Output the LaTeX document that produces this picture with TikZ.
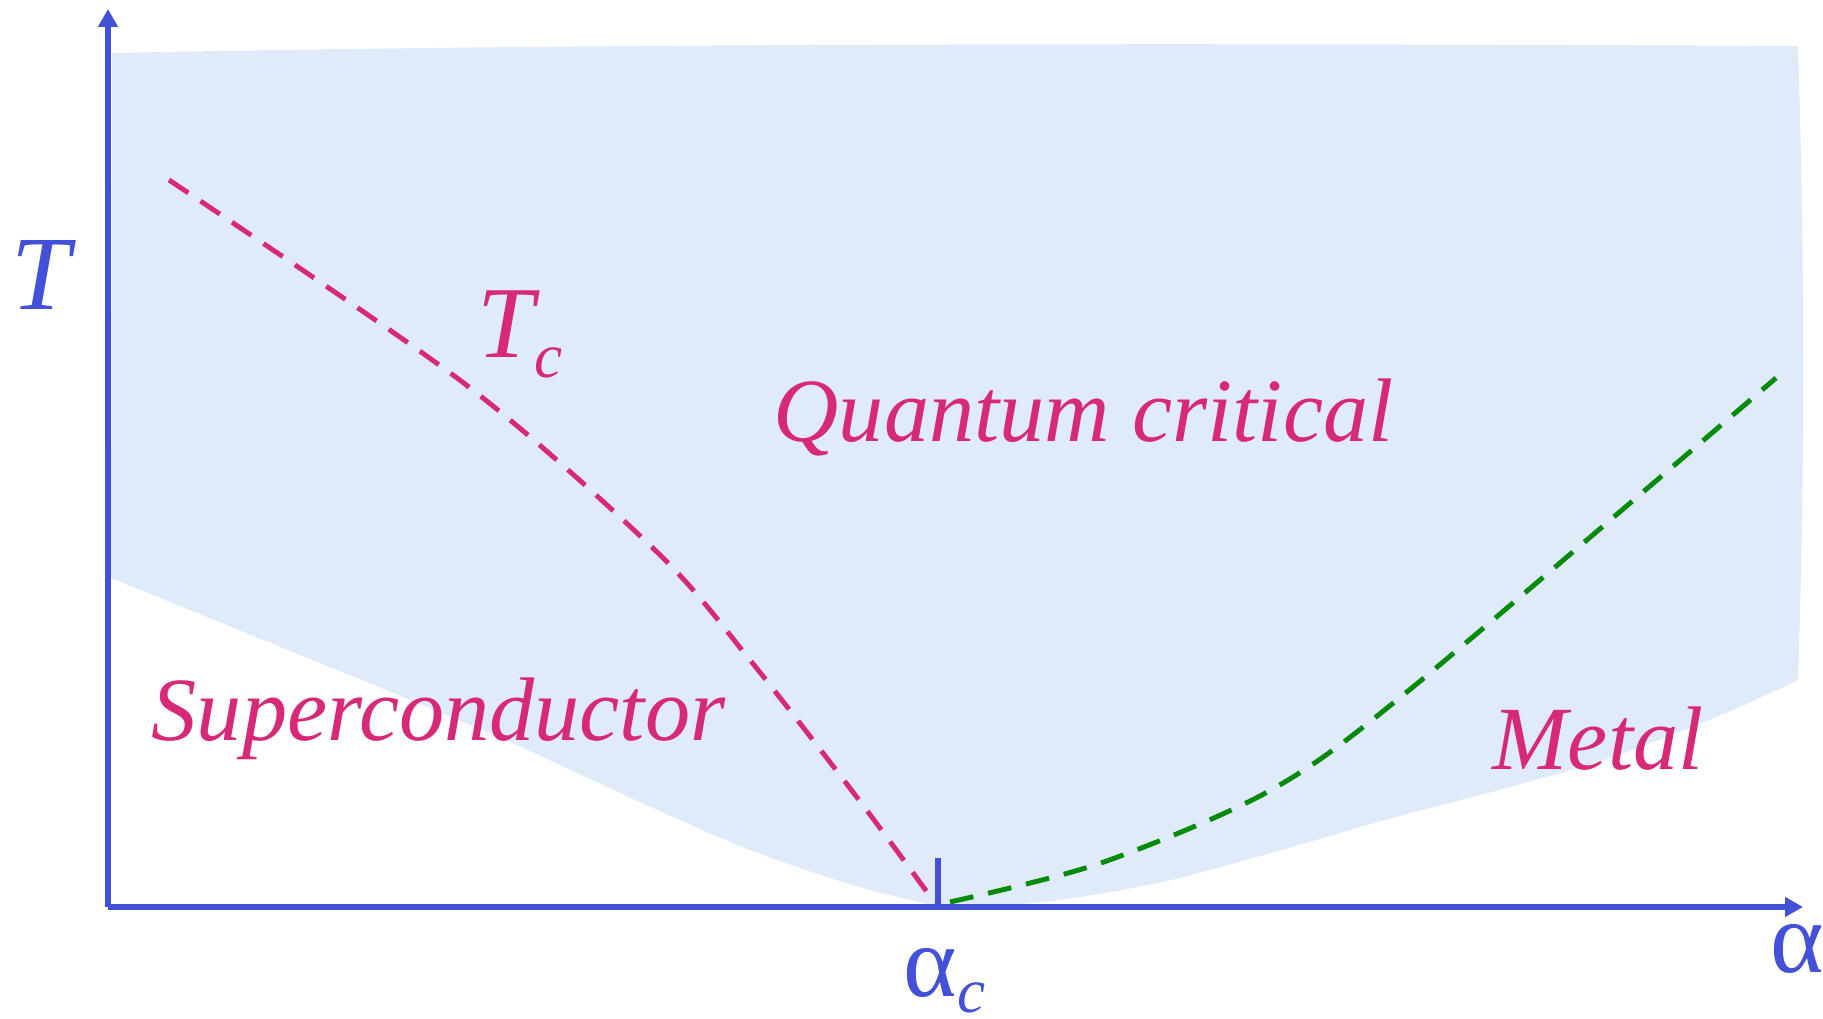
\documentclass[tikz,border=0pt]{standalone}
\usepackage{fontspec}
\setmainfont{Liberation Serif}
\usetikzlibrary{arrows.meta}
\definecolor{cAxis}{HTML}{4350D8}
\definecolor{cPink}{HTML}{D62A78}
\definecolor{cGreen}{HTML}{058A0C}
\definecolor{cFill}{HTML}{E0EBFA}
\tikzset{
  axis/.style={line width=1.6pt,cAxis,-{Triangle[length=1.8mm,width=1.9mm]}},
  tick/.style={line width=1.6pt,cAxis},
  tcline/.style={line width=1.4pt,cPink,dash pattern=on 6.6pt off 4.2pt},
  metline/.style={line width=1.4pt,cGreen,dash pattern=on 6.8pt off 4.3pt},
  phase/.style={cPink,inner sep=0pt,anchor=base west,
                font=\fontsize{25.7}{30}\selectfont\itshape},
  axlabel/.style={cAxis,inner sep=0pt,anchor=base west,
                font=\fontsize{29}{32}\selectfont},
}
\newcommand{\subc}[1]{\raisebox{#1}{\fontsize{18}{20}\selectfont\itshape c}}

\begin{document}
\begin{tikzpicture}
  \useasboundingbox (0,0) rectangle (18.23,10.19);
  % quantum critical fan
  \fill[cFill] (1.12,9.66) .. controls (6,9.76) and (12,9.76) .. (17.98,9.73)
    .. controls (18.05,7.5) and (18.05,5.5) .. (17.98,3.39)
    -- plot[smooth] coordinates {(17.98,3.39) (17.26,3.06) (16.13,2.62)
       (14.99,2.29) (13.85,1.99) (12.71,1.66) (11.58,1.36) (10.44,1.17)
       (9.42,1.12)}
    -- plot[smooth] coordinates {(9.42,1.12) (8.59,1.32) (7.50,1.69)
       (6.42,2.16) (5.12,2.76) (4.03,3.22) (1.11,4.41)}
    -- cycle;
  % axes
  \coordinate (O) at (1.08,1.12);
  \coordinate (Ytip) at (1.08,10.10);
  \coordinate (Xtip) at (18.03,1.12);
  \coordinate (acBot) at (9.38,1.12);
  \coordinate (acTop) at (9.38,1.61);
  \draw[axis] (O) -- (Ytip);
  \draw[axis] (O) -- (Xtip);
  \draw[tick] (acBot) -- (acTop);
  % crossover lines
  \coordinate (tcStart) at (1.69,8.39);
  \coordinate (metEnd) at (17.76,6.41);
  \draw[tcline] plot[smooth] coordinates {(tcStart) (4.65,6.35) (6.58,4.66)
    (7.50,3.59) (8.59,2.19) (9.35,1.16)};
  \draw[metline] plot[smooth] coordinates {(9.50,1.17) (11.01,1.56)
    (12.71,2.29) (14.13,3.32) (metEnd)};
  % labels
  \node[phase] (qc) at (7.73,5.77) {Quantum critical};
  \node[phase] (sc) at (1.51,2.78) {Superconductor};
  \node[phase] (met) at (14.92,2.49) {Metal};
  \node[phase,font=\fontsize{29}{32}\selectfont\itshape] (Tc) at (4.77,6.61)
    {T\subc{-0.2cm}};
  \node[axlabel,font=\fontsize{30}{32}\selectfont\itshape] (Tlab) at (0.11,7.09) {T};
  \node[axlabel] (alab) at (17.70,0.46) {α};
  \node[axlabel] (aclab) at (9.03,0.22) {α\subc{-0.16cm}};
\end{tikzpicture}
\end{document}
